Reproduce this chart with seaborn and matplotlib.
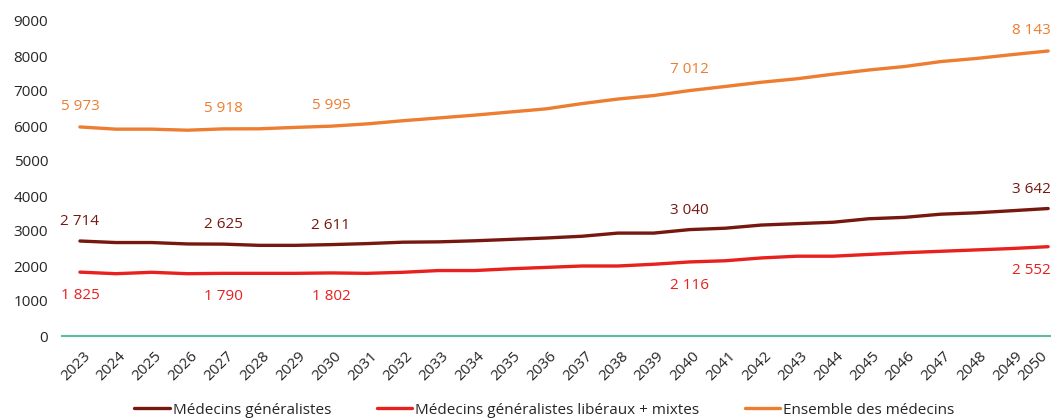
import matplotlib
matplotlib.use('Agg')
import matplotlib.pyplot as plt
import matplotlib.transforms as mtransforms
import seaborn as sns
import pandas as pd

years = list(range(2023, 2051))

generalistes = [2714, 2670, 2670, 2630, 2625, 2590, 2590, 2611, 2640, 2680,
                2690, 2720, 2760, 2800, 2850, 2940, 2940, 3040, 3080, 3170,
                3210, 3250, 3350, 3390, 3480, 3520, 3580, 3642]
liberaux_mixtes = [1825, 1780, 1820, 1780, 1790, 1790, 1790, 1802, 1790, 1820,
                   1870, 1870, 1920, 1960, 2000, 2000, 2050, 2116, 2150, 2230,
                   2280, 2280, 2330, 2380, 2420, 2460, 2500, 2552]
ensemble = [5973, 5910, 5910, 5880, 5918, 5920, 5960, 5995, 6060, 6150,
            6230, 6310, 6400, 6490, 6640, 6770, 6870, 7012, 7130, 7250,
            7350, 7480, 7600, 7700, 7840, 7930, 8040, 8143]

series_names = ["Médecins généralistes",
                "Médecins généralistes libéraux + mixtes",
                "Ensemble des médecins"]
label_years = [2023, 2027, 2030, 2040, 2050]

colors = {"Médecins généralistes": "#771810",
          "Médecins généralistes libéraux + mixtes": "#E8201E",
          "Ensemble des médecins": "#ED7D31"}

df = pd.DataFrame({
    "year": years * 3,
    "value": generalistes + liberaux_mixtes + ensemble,
    "serie": [series_names[0]] * len(years) + [series_names[1]] * len(years)
             + [series_names[2]] * len(years),
})

sns.set_theme(style="white")
plt.rcParams['font.family'] = ['Open Sans', 'DejaVu Sans']

fig = plt.figure(figsize=(10.51, 4.19), dpi=100)
ax = fig.add_axes([62 / 1051, 1 - 336 / 419, 989 / 1051, 315 / 419])

sns.lineplot(data=df, x="year", y="value", hue="serie", palette=colors,
             hue_order=series_names, linewidth=2.4, ax=ax, legend=True)

# data labels: above for the two upper lines, below for the red one
offsets = {series_names[0]: 14, series_names[1]: -17, series_names[2]: 15}
for name, vals in zip(series_names, [generalistes, liberaux_mixtes, ensemble]):
    for y in label_years:
        v = vals[years.index(y)]
        txt = f"{v:,}".replace(",", " ")
        last = (y == years[-1])
        ax.annotate(txt, (y, v), xytext=(2 if last else 0, offsets[name]),
                    textcoords="offset points",
                    ha="right" if last else "center", va="center",
                    fontsize=11, color=colors[name])

ax.set_xlim(2022.5, 2050.08)
ax.set_ylim(0, 9000)
ax.set_yticks(range(0, 9001, 1000))
ax.set_xticks(years)
ax.set_xticklabels([])
ax.tick_params(axis='y', labelsize=11, length=0, pad=10)
ax.tick_params(axis='x', length=0)
ax.set_xlabel("")
ax.set_ylabel("")

# rotated year labels, drawn by hand so the last one stays inside the figure
base = mtransforms.blended_transform_factory(ax.transData, ax.transAxes)
for i, y in enumerate(years):
    dx = -6 if i == len(years) - 1 else 2
    tr = base + mtransforms.ScaledTranslation(dx / 72, -9 / 72, fig.dpi_scale_trans)
    ax.text(y, 0, str(y), transform=tr, rotation=45, ha="right", va="top",
            rotation_mode="anchor", fontsize=11, color="#262626")

for s in ["top", "right", "left"]:
    ax.spines[s].set_visible(False)
ax.spines["bottom"].set_color("#5DBE9E")
ax.spines["bottom"].set_linewidth(1.5)

handles, labels = ax.get_legend_handles_labels()
ax.get_legend().remove()
fig.legend(handles, labels, loc="lower center", bbox_to_anchor=(0.518, -0.03),
           ncol=3, frameon=False, fontsize=11, handlelength=2.3,
           handletextpad=0.2, columnspacing=3.0)

fig.savefig("out.png", dpi=100)
plt.close(fig)
